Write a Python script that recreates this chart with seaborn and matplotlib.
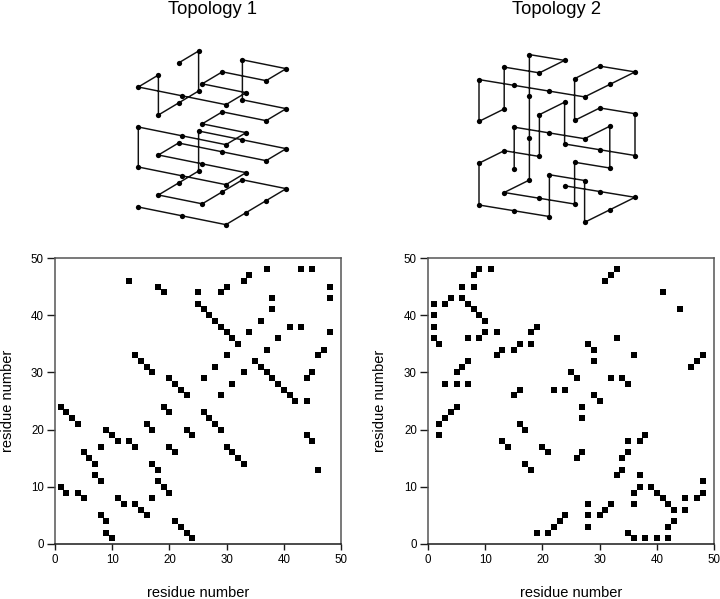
import matplotlib
matplotlib.use("Agg")
import matplotlib.pyplot as plt
import pandas as pd
import seaborn as sns

# contact maps, (residue i, residue j)
contacts_1 = [
    (37, 48), (43, 48), (45, 48), (13, 46), (18, 45), (19, 44), (25, 44), (29, 44), (30, 45),
    (33, 46), (34, 47), (48, 45), (48, 43), (38, 43), (38, 41),
    (25, 42), (26, 41), (27, 40), (28, 39), (29, 38), (30, 37), (31, 36), (32, 35),
    (36, 39), (34, 37), (41, 38), (43, 38), (48, 37), (39, 36), (37, 34), (47, 34), (46, 33), (30, 33),
    (14, 33), (15, 32), (16, 31), (17, 30),
    (28, 31), (26, 29), (33, 30), (45, 30), (44, 29), (31, 28), (29, 26),
    (35, 32), (36, 31), (37, 30), (38, 29), (39, 28), (40, 27), (41, 26), (42, 25), (44, 25),
    (20, 29), (21, 28), (22, 27), (23, 26), (19, 24), (20, 23),
    (1, 24), (2, 23), (3, 22), (4, 21),
    (26, 23), (27, 22), (28, 21), (29, 20),
    (16, 21), (17, 20), (23, 20), (24, 19),
    (9, 20), (10, 19), (11, 18), (13, 18), (14, 17), (8, 17), (20, 17), (21, 16),
    (44, 19), (45, 18), (30, 17), (31, 16), (32, 15), (33, 14),
    (5, 16), (6, 15), (7, 14), (7, 12), (8, 11),
    (17, 14), (18, 13), (18, 11), (19, 10), (20, 9), (46, 13),
    (1, 10), (2, 9), (4, 9), (5, 8), (11, 8), (12, 7), (14, 7), (15, 6), (16, 5), (17, 8),
    (8, 5), (9, 4), (9, 2), (10, 1),
    (21, 4), (22, 3), (23, 2), (24, 1),
]
contacts_2 = [
    (9, 48), (11, 48), (8, 47), (6, 45), (8, 45), (33, 48), (32, 47), (31, 46), (41, 44), (44, 41),
    (1, 42), (3, 42), (4, 43), (6, 43), (7, 42), (8, 41), (9, 40), (10, 39),
    (1, 40), (1, 38), (1, 36), (2, 35), (7, 36), (9, 36), (10, 37), (12, 37), (18, 37), (19, 38),
    (12, 33), (13, 34), (15, 34), (16, 35), (18, 35),
    (33, 36), (28, 35), (29, 34), (36, 33), (29, 32), (48, 33), (47, 32), (46, 31),
    (7, 32), (6, 31), (5, 30), (3, 28), (5, 28), (7, 28),
    (25, 30), (26, 29), (32, 29), (34, 29), (35, 28),
    (16, 27), (15, 26), (22, 27), (24, 27), (29, 26), (30, 25), (27, 24), (27, 22),
    (5, 24), (4, 23), (3, 22), (2, 21), (2, 19),
    (16, 21), (17, 20), (38, 19), (37, 18), (35, 18),
    (13, 18), (14, 17), (20, 17), (21, 16), (27, 16), (26, 15), (35, 16), (34, 15),
    (17, 14), (18, 13), (34, 13), (33, 12), (37, 12), (48, 11),
    (37, 10), (36, 9), (39, 10), (40, 9), (41, 8), (42, 7), (43, 6), (36, 7),
    (45, 8), (45, 6), (47, 8), (48, 9),
    (28, 7), (28, 5), (28, 3), (30, 5), (31, 6), (32, 7),
    (19, 2), (21, 2), (22, 3), (23, 4), (24, 5),
    (35, 2), (36, 1), (38, 1), (40, 1), (42, 1), (42, 3), (43, 4),
]

# chain on the lattice, (a, b, z) for each residue
chain_1 = [
    (0, 0, 0), (1, 0, 0), (2, 0, 0), (2, 1, 0), (2, 2, 0), (2, 3, 0), (1, 3, 0), (1, 2, 0),
    (1, 1, 0), (0, 1, 0), (0, 2, 0), (0, 3, 0),
    (0, 3, 1), (1, 3, 1), (2, 3, 1), (2, 2, 1), (1, 2, 1), (0, 2, 1), (0, 1, 1), (1, 1, 1),
    (2, 1, 1), (2, 0, 1), (1, 0, 1), (0, 0, 1),
    (0, 0, 2), (1, 0, 2), (2, 0, 2), (2, 1, 2), (1, 1, 2), (1, 2, 2), (2, 2, 2), (2, 3, 2), (1, 3, 2),
    (1, 3, 3), (2, 3, 3), (2, 2, 3), (1, 2, 3), (1, 1, 3), (2, 1, 3), (2, 0, 3), (1, 0, 3), (0, 0, 3),
    (0, 1, 3), (0, 1, 2), (0, 2, 2), (0, 3, 2), (0, 3, 3), (0, 2, 3),
]
chain_2 = [
    (1, 2, 0), (2, 2, 0), (3, 2, 0), (3, 1, 0), (3, 0, 0), (3, 0, 1), (2, 0, 1), (2, 0, 0),
    (1, 0, 0), (0, 0, 0), (0, 0, 1), (0, 1, 1), (1, 1, 1), (1, 1, 2), (1, 2, 2), (1, 2, 1),
    (2, 2, 1), (3, 2, 1), (3, 2, 2), (2, 2, 2), (2, 1, 2), (2, 1, 3), (2, 2, 3), (3, 2, 3),
    (3, 1, 3), (3, 0, 3), (2, 0, 3), (1, 0, 3), (0, 0, 3), (0, 0, 2), (0, 1, 2), (0, 1, 3),
    (1, 1, 3), (1, 2, 3), (0, 2, 3), (0, 2, 2), (0, 2, 1), (0, 2, 0), (0, 1, 0), (1, 1, 0),
    (2, 1, 0), (2, 1, 1), (3, 1, 1), (3, 1, 2), (3, 0, 2), (2, 0, 2), (1, 0, 2), (1, 0, 1),
]

titles = ["Topology 1", "Topology 2"]
tick_values = [0, 10, 20, 30, 40, 50]
axis_label = "residue number"

sns.set_theme(style="white")
plt.rcParams["font.family"] = ["Liberation Sans", "DejaVu Sans"]
INK = "#1a1a1a"
GREY = "#555555"

W, H = 720, 599
fig = plt.figure(figsize=(W / 100, H / 100), dpi=100)


def pixel_rect(left, top, right, bottom):
    return [left / W, 1 - bottom / H, (right - left) / W, (bottom - top) / H]


def draw_map(contacts, left, label_x, ylabel_x):
    ax = fig.add_axes(pixel_rect(left, 258, left + 286, 544))
    df = pd.DataFrame(contacts, columns=["i", "j"])
    sns.scatterplot(data=df, x="i", y="j", ax=ax, marker="s", color="black",
                    s=25, linewidth=0, clip_on=False)
    ax.set_xlim(0, 50)
    ax.set_ylim(0, 50)
    ax.set_xticks(tick_values)
    ax.set_yticks(tick_values)
    ax.tick_params(axis="x", length=4.5, width=1, color=INK, labelsize=8.3, labelcolor="black",
                   pad=3, bottom=True)
    ax.tick_params(axis="y", length=5.5, width=1, color=INK, labelsize=8.3, labelcolor="black",
                   pad=2.5, left=True)
    for name, s in ax.spines.items():
        s.set_color(INK if name == "bottom" else GREY)
        s.set_linewidth(1.1)
    ax.set_xlabel("")
    ax.set_ylabel("")
    fig.text(label_x / W, 1 - 593 / H, axis_label, ha="center", va="center", fontsize=10.5, color="black")
    fig.text(ylabel_x / W, 1 - 401 / H, axis_label, ha="center", va="center", fontsize=10.5,
             rotation=90, color="black")


draw_map(contacts_1, 55, 198, 8)
draw_map(contacts_2, 428, 571, 380)

# lattice sketches go on one axes in image pixels
top = fig.add_axes([0, 0, 1, 1], facecolor="none")


def draw_chain(chain, origin, a_step, b_step, z_step):
    df = pd.DataFrame(chain, columns=["a", "b", "z"])
    df["px"] = origin[0] + df["a"] * a_step[0] + df["b"] * b_step[0]
    df["py"] = origin[1] + df["a"] * a_step[1] + df["b"] * b_step[1] - df["z"] * z_step
    sns.lineplot(data=df, x="px", y="py", ax=top, sort=False, estimator=None, color="#111111",
                 linewidth=1.05, marker="o", markersize=3.8, markeredgewidth=0,
                 markerfacecolor="black")


draw_chain(chain_1, (138.3, 207), (43.8, 8.83), (20.1, -12), 40)
draw_chain(chain_2, (479, 205), (35.2, 5.77), (25.2, -12.5), 41.8)
top.set_xlim(0, W)
top.set_ylim(H, 0)
top.axis("off")

fig.text(212 / W, 1 - 14 / H, titles[0], ha="center", va="baseline", fontsize=13.2, color="black")
fig.text(557 / W, 1 - 14 / H, titles[1], ha="center", va="baseline", fontsize=13.2, color="black")

fig.savefig("out.png", dpi=100, facecolor="white")
